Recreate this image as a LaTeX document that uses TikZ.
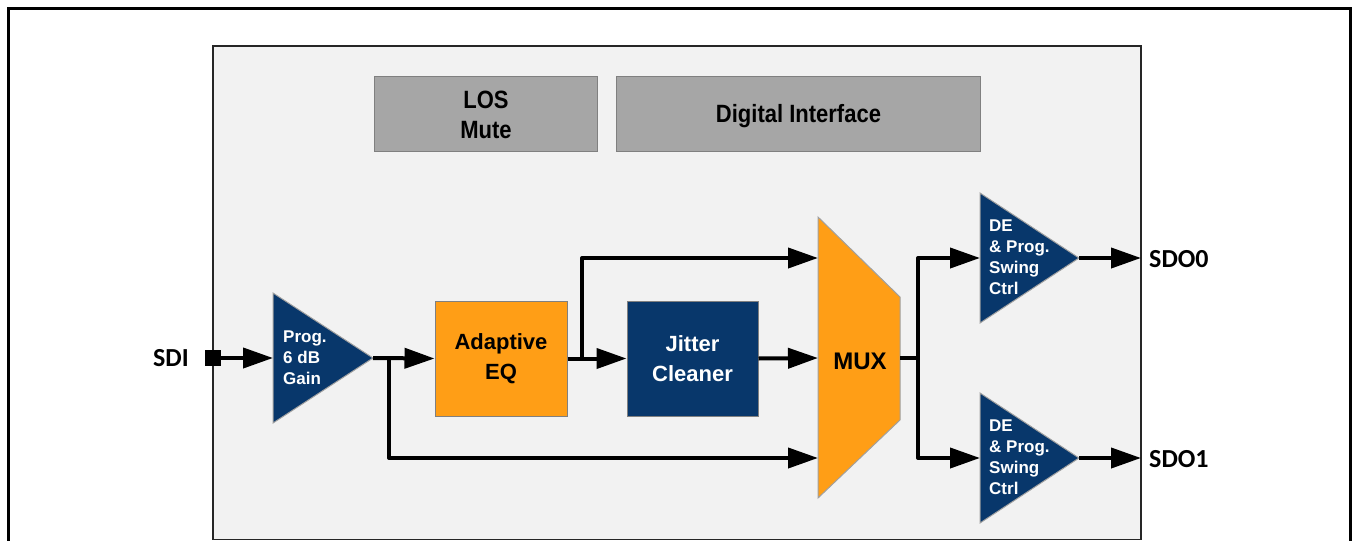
\documentclass[tikz,border=0pt]{standalone}
\usepackage{fontspec}
\setmainfont{Liberation Sans}
\newfontfamily\narrowfnt[FakeStretch=0.88]{Liberation Sans}
\newfontfamily\portfnt{Carlito}
\usetikzlibrary{arrows.meta}
\definecolor{navy}{RGB}{8,55,107}
\definecolor{eqorange}{RGB}{255,158,22}
\definecolor{panel}{RGB}{242,242,242}
\definecolor{ctlgray}{RGB}{166,166,166}
\definecolor{edgegray}{RGB}{128,128,128}
\definecolor{triedge}{RGB}{160,160,160}
\tikzset{
  wire/.style={line width=4pt, line join=round},
  arr/.style={wire, -{Triangle[length=30pt,width=20pt]}},
  ctlbox/.style={draw=edgegray, line width=1pt, fill=ctlgray},
  blk/.style={draw=edgegray, line width=1pt},
  tri/.style={draw=triedge, line width=1pt, fill=navy},
  amptext/.style={text=white, font=\fontsize{17}{21}\selectfont\bfseries, align=left, inner sep=0pt, anchor=west},
  blktext/.style={font=\fontsize{22}{30}\selectfont\bfseries, align=center, inner sep=0pt},
  ctltext/.style={font=\narrowfnt\fontsize{25}{30}\selectfont\bfseries, align=center, inner sep=0pt},
  porttext/.style={font=\portfnt\fontsize{26}{30}\selectfont\bfseries, inner sep=0pt}
}
\begin{document}
\begin{tikzpicture}[x=1pt,y=-1pt]
\clip (0,0) rectangle (1353,541);
\fill[white] (0,0) rectangle (1353,541);
% outer frame
\draw[line width=3pt] (8.5,8.5) rectangle (1350.5,580);
% panel
\draw[fill=panel, line width=1.5pt, draw=black!85] (213,46) rectangle (1141,539.5);
% control boxes
\node[ctlbox, minimum width=223pt, minimum height=75pt, anchor=north west] (los) at (374,76) {};
\node[ctltext] at ([yshift=-1pt]los.center) {LOS\\Mute};
\node[ctlbox, minimum width=364pt, minimum height=75pt, anchor=north west] (dig) at (616,76) {};
\node[ctltext] at ([yshift=-2.5pt]dig.center) {Digital Interface};
% SDI
\node[porttext] (sdi) at (171,358) {SDI};
\node[fill=black, minimum size=16pt, inner sep=0pt] (sq) at (213,358) {};
% amp 1
\coordinate (a1in) at (273,358);
\coordinate (a1out) at (373,358);
\draw[tri] (273,293) -- (373,358) -- (273,423) -- cycle;
\node[amptext] at (283,358) {Prog.\\6 dB\\Gain};
% EQ and jitter
\node[blk, fill=eqorange, minimum width=132pt, minimum height=115pt] (eq) at (501,358.5) {};
\node[blktext] at (eq.center) {Adaptive\\EQ};
\node[blk, fill=navy, minimum width=131pt, minimum height=115pt] (jc) at (692.5,358.5) {};
\node[blktext, text=white] at (jc.center) {Jitter\\Cleaner};
% MUX
\coordinate (mtop) at (818,258);
\coordinate (mmid) at (818,358);
\coordinate (mbot) at (818,458);
\coordinate (mout) at (900,358);
\draw[fill=eqorange, draw=triedge, line width=1pt] (818,217) -- (900,297) -- (900,420) -- (818,498) -- cycle;
\node[font=\fontsize{24}{28}\selectfont\bfseries, inner sep=0pt] (mux) at (860,361) {MUX};
% output drivers
\coordinate (d0in) at (980,258);
\coordinate (d0out) at (1079,258);
\coordinate (d1in) at (980,458);
\coordinate (d1out) at (1079,458);
\draw[tri] (980,193) -- (1079,258) -- (980,323) -- cycle;
\draw[tri] (980,393) -- (1079,458) -- (980,523) -- cycle;
\node[amptext] at (989,257) {DE\\\&~Prog.\\Swing\\Ctrl};
\node[amptext] at (989,457) {DE\\\&~Prog.\\Swing\\Ctrl};
\coordinate (o0) at (1141,258);
\coordinate (o1) at (1141,458);
\node[porttext, anchor=west] (sdo0) at (1149,259) {SDO0};
\node[porttext, anchor=west] (sdo1) at (1149,459) {SDO1};
% connectors
\coordinate (b1) at (389,358);
\coordinate (b2) at (582,358);
\coordinate (b3) at (918,358);
\draw[arr] (sq.east) -- (a1in);
\draw[arr] (a1out) -- (eq.west);
\draw[arr] (b1) |- (mbot);
\draw[arr] (eq.east) -- (jc.west);
\draw[arr] (b2) |- (mtop);
\draw[arr] (jc.east) -- (mmid);
\draw[wire] (mout) -- (b3);
\draw[arr] (b3) |- (d0in);
\draw[arr] (b3) |- (d1in);
\draw[arr] (d0out) -- (o0);
\draw[arr] (d1out) -- (o1);
\end{tikzpicture}
\end{document}
